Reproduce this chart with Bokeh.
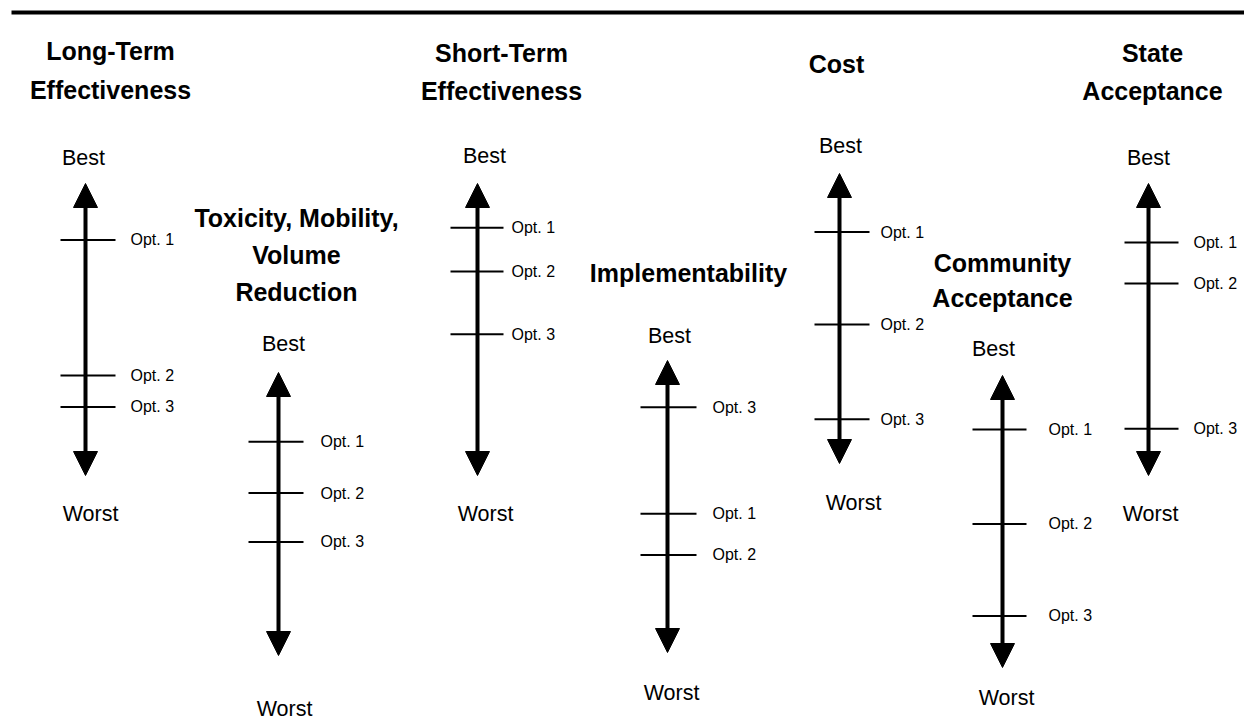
from bokeh.plotting import figure
from bokeh.models import Range1d, ColumnDataSource, Arrow, NormalHead
from bokeh.core.properties import value
from bokeh.embed import file_html
from bokeh.resources import INLINE

# ---------------- data ----------------
criteria = [
    ["Long-Term", "Effectiveness"],
    ["Toxicity, Mobility,", "Volume", "Reduction"],
    ["Short-Term", "Effectiveness"],
    ["Implementability"],
    ["Cost"],
    ["Community", "Acceptance"],
    ["State", "Acceptance"],
]
options = ["Opt. 1", "Opt. 2", "Opt. 3"]
# relative ranking along each arrow: 0 = Best end, 100 = Worst end
long_term = [13, 69, 82]
toxicity_mobility_volume = [19, 41, 62]
short_term = [8, 26, 52]
implementability = [53, 70, 9]
cost = [14, 52.5, 92]
community_acceptance = [12, 51, 89]
state_acceptance = [14, 31, 91]
scores = [long_term, toxicity_mobility_volume, short_term, implementability,
          cost, community_acceptance, state_acceptance]
end_labels = ["Best", "Worst"]

# ---------------- layout (page pixels) ----------------
col_x = [85, 278, 477, 667, 839, 1002, 1148]
tip_top = [183, 372, 183, 360, 173, 375, 183]
tip_bot = [475, 655, 475, 652, 463, 667, 475]
HEAD = 25
tick_l = [25, 30, 27, 27, 25, 30, 24]
tick_r = [30, 25, 26, 29, 30, 24, 30]
lab_x = [130, 320, 511, 712, 880, 1048, 1193]
best_x = [83, 283, 484, 669, 840, 993, 1148]
best_y = [157, 343, 155, 335, 145, 348, 157]
worst_x = [90, 284, 485, 671, 853, 1006, 1150]
worst_y = [513, 708, 513, 692, 502, 697, 513]
title_x = [110, 296, 501, 688, 836, 1002, 1152]
title_y = [[50, 89], [217, 254, 291], [52, 90], [272], [63], [262, 297], [52, 90]]

W, H = 1244, 719
Y_BOTTOM, Y_TOP = H, 0

p = figure(width=W, height=H, output_backend="svg", toolbar_location=None,
           x_range=Range1d(0, W), y_range=Range1d(Y_BOTTOM, Y_TOP),
           min_border=0, x_axis_location=None, y_axis_location=None,
           background_fill_color="white", border_fill_color="white")
p.grid.visible = False
p.outline_line_color = None

# top rule
p.segment(x0=[11], y0=[12], x1=[1250], y1=[12], line_color="black", line_width=4)

FONT = value("Liberation Sans")

# titles
tx, ty, tt = [], [], []
for i, lines in enumerate(criteria):
    for j, line in enumerate(lines):
        tx.append(title_x[i]); ty.append(title_y[i][j]); tt.append(line)
p.text(x=tx, y=ty, text=tt, text_font=FONT, text_font_style="bold",
       text_font_size="25px", text_align="center", text_baseline="middle",
       text_color="black")

# Best / Worst
p.text(x=best_x, y=best_y, text=[end_labels[0]] * 7, text_font=FONT,
       text_font_size="21.5px", text_align="center", text_baseline="middle", text_color="black")
p.text(x=worst_x, y=worst_y, text=[end_labels[1]] * 7, text_font=FONT,
       text_font_size="21.5px", text_align="center", text_baseline="middle", text_color="black")

# arrows
asrc = ColumnDataSource(dict(x=col_x, ys=tip_top, ye=tip_bot))
p.add_layout(Arrow(x_start="x", y_start="ys", x_end="x", y_end="ye", source=asrc,
                   line_width=4, line_color="black",
                   start=NormalHead(size=HEAD - 1, fill_color="black", line_color="black", line_width=1),
                   end=NormalHead(size=HEAD - 1, fill_color="black", line_color="black", line_width=1)))

# per-criterion scales: score 0 at top triangle base, 100 at bottom triangle base
for i in range(7):
    T = tip_top[i] + HEAD
    B = tip_bot[i] - HEAD
    k = 100.0 / (B - T)
    name = f"c{i}"
    p.extra_y_ranges[name] = Range1d(start=(Y_BOTTOM - T) * k, end=(Y_TOP - T) * k)
    src = ColumnDataSource(dict(
        x0=[col_x[i] - tick_l[i]] * 3, x1=[col_x[i] + tick_r[i]] * 3,
        lx=[lab_x[i]] * 3, s=scores[i], lab=options))
    p.segment(x0="x0", y0="s", x1="x1", y1="s", source=src, y_range_name=name,
              line_color="black", line_width=2)
    p.text(x="lx", y="s", text="lab", source=src, y_range_name=name,
           text_font=FONT, text_font_size="16px", text_align="left",
           text_baseline="middle", text_color="black")

open("out.html", "w").write(file_html(p, INLINE))
